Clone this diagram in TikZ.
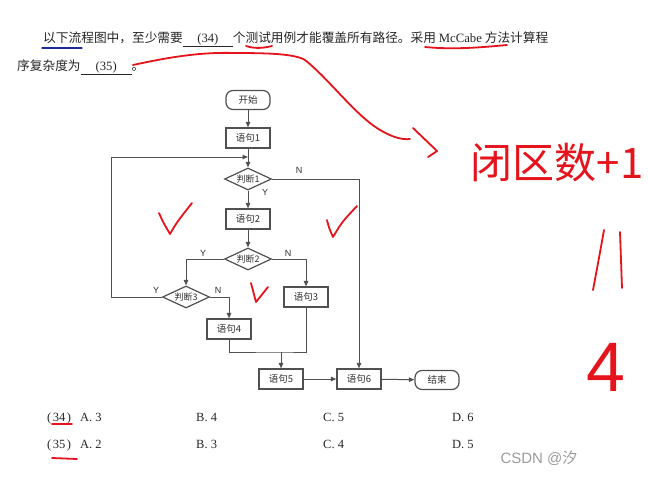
\documentclass[tikz,border=0pt]{standalone}
\usepackage{fontspec}
\setmainfont{Liberation Serif}
\setsansfont{Liberation Sans}
\newfontfamily\cjk{Noto Sans CJK SC}
\usepackage{xcolor}
\usepackage{tikz}
\usetikzlibrary{positioning,shapes.geometric,arrows.meta}
\definecolor{linegray}{HTML}{505050}
\definecolor{textgray}{HTML}{303030}
\definecolor{penred}{HTML}{E5131B}
\definecolor{penblue}{HTML}{1C2A9C}
\definecolor{markgray}{HTML}{9A9A9A}
\tikzset{
  % --- flowchart boxes ---
  flowbox/.style={draw=linegray, line width=1.2pt, fill=white, text=textgray,
                  font=\cjk\fontsize{9.5}{10}\selectfont, minimum width=44pt,
                  minimum height=20pt, inner sep=1pt},
  flowterm/.style={flowbox, rounded corners=7pt, minimum height=19pt},
  flowdec/.style={diamond, draw=linegray, line width=1.2pt, fill=white,
                  text=textgray, font=\cjk\fontsize{9}{9}\selectfont,
                  aspect=2.1, minimum width=47pt, minimum height=22pt,
                  inner sep=0pt},
  % --- connectors ---
  flowline/.style={-{Triangle[length=5.5pt,width=4.5pt]}, line width=1pt,
                   draw=linegray},
  flowjoin/.style={line width=1pt, draw=linegray},
  branch/.style={font=\sffamily\fontsize{9}{9}\selectfont, text=textgray},
  % --- exam text ---
  qline/.style={anchor=base west, inner sep=0pt, text=black!85,
                font=\fontsize{12.7}{15}\selectfont},
  opt/.style={anchor=base west, inner sep=0pt, text=black!85,
              font=\fontsize{12.5}{14}\selectfont},
  % --- pen marks ---
  redpen/.style={draw=penred, line width=1.8pt, line cap=round, line join=round},
  bluepen/.style={draw=penblue, line width=1.3pt, line cap=round},
  pentext/.style={text=penred, inner sep=0pt},
}
\newcommand{\blank}[2]{\underline{\makebox[#1]{#2}}}

\begin{document}
\begin{tikzpicture}[x=1pt,y=-1pt]
  \useasboundingbox (0,0) rectangle (648,477);

  % --- question ---
  \node[qline] (q1) at (43,42)
        {\cjk 以下流程图中，至少需要\blank{50pt}{\rmfamily (34)}个测试用例才能覆盖所有路径。采用 {\rmfamily McCabe} 方法计算程};
  \node[qline] (q2) at (17,70) {\cjk 序复杂度为\blank{51pt}{\rmfamily (35)}。};

  % --- flowchart nodes ---
  \node[flowterm] (start) at (248,100) {开始};
  \node[flowbox]  (s1)    at (248,138) {语句1};
  \node[flowdec]  (d1)    at (248,179) {判断1};
  \node[flowbox]  (s2)    at (248,219) {语句2};
  \node[flowdec]  (d2)    at (248,259) {判断2};
  \node[flowdec]  (d3)    at (186,297) {判断3};
  \node[flowbox]  (s3)    at (306,297) {语句3};
  \node[flowbox]  (s4)    at (229,329) {语句4};
  \node[flowbox]  (s5)    at (281,379) {语句5};
  \node[flowbox]  (s6)    at (359,379) {语句6};
  \node[flowterm] (stop)  at (437,380) {结束};

  % bend points
  \coordinate (join)   at (248,157);
  \coordinate (loopl)  at (111,297);
  \coordinate (merge)  at (281,352);
  \coordinate (nright) at (359,179);

  % --- connectors ---
  \draw[flowline] (start) -- (s1);
  \draw[flowjoin] (s1) -- (join);
  \draw[flowline] (join) -- (d1);
  \draw[flowline] (d3.west) -- (loopl) |- (join);
  \draw[flowline] (d1) -- (s2);
  \draw[flowline] (d1.east) -- (nright) -- (s6);
  \draw[flowline] (s2) -- (d2);
  \draw[flowline] (d2.west) -| (d3.north);
  \draw[flowline] (d2.east) -| (s3.north);
  \draw[flowline] (d3.east) -| (s4.north);
  \draw[flowjoin] (s4.south) |- (merge) -| (s3.south);
  \draw[flowline] (merge) -- (s5);
  \draw[flowline] (s5) -- (s6);
  \draw[flowline] (s6) -- (stop);

  % branch labels
  \node[branch] (y1) at (265,192) {Y};
  \node[branch] (n1) at (299,170) {N};
  \node[branch] (y2) at (203,253) {Y};
  \node[branch] (n2) at (288,253) {N};
  \node[branch] (y3) at (156,290) {Y};
  \node[branch] (n3) at (218,290) {N};

  % --- answer options ---
  \node[opt] (o34) at (47,421) {(\hspace{1.5pt}34\hspace{1.5pt})};
  \node[opt] (a34) at (80,421) {A. 3};
  \node[opt] (b34) at (196,421) {B. 4};
  \node[opt] (c34) at (323,421) {C. 5};
  \node[opt] (d34) at (452,421) {D. 6};
  \node[opt] (o35) at (47,448) {(\hspace{1.5pt}35\hspace{1.5pt})};
  \node[opt] (a35) at (80,448) {A. 2};
  \node[opt] (b35) at (196,448) {B. 3};
  \node[opt] (c35) at (323,448) {C. 4};
  \node[opt] (d35) at (452,448) {D. 5};
  \node[anchor=west, text=markgray, font=\sffamily\fontsize{15}{16}\selectfont]
        (mark) at (497,458) {CSDN @{\cjk 汐}};

  % --- pen marks ---
  \draw[bluepen] (42,48) -- (82,48);
  \draw[redpen] (246,46) .. controls (255,49) and (264,48) .. (272,46);
  \draw[redpen] (425,47) .. controls (455,50) and (485,47) .. (507,45);
  \draw[redpen] (133,65) .. controls (170,57) and (200,52) .. (235,53)
                .. controls (270,53) and (295,54) .. (305,60)
                .. controls (330,80) and (355,115) .. (380,130)
                .. controls (392,137) and (402,140) .. (410,139);
  \draw[redpen] (413,128) -- (437,151) -- (428,157);
  \node[pentext, font=\cjk\fontsize{42}{42}\selectfont] (hw) at (557,163) {闭区数+1};
  \draw[redpen] (604,230) .. controls (599,258) .. (593,290);
  \draw[redpen] (620,232) -- (622,288);
  \node[pentext, font=\sffamily\fontsize{70}{70}\selectfont] (four) at (606,367) {4};
  % ticks
  \draw[redpen] (159,213) .. controls (163,222) .. (170,234) .. controls (177,222) .. (192,203);
  \draw[redpen] (327,220) .. controls (329,228) .. (333,237) .. controls (342,222) .. (357,206);
  \draw[redpen] (251,283) -- (256,302) -- (268,287);
  \draw[redpen] (52,424) -- (72,424);
  \draw[redpen] (52,458) -- (77,459);
\end{tikzpicture}
\end{document}
